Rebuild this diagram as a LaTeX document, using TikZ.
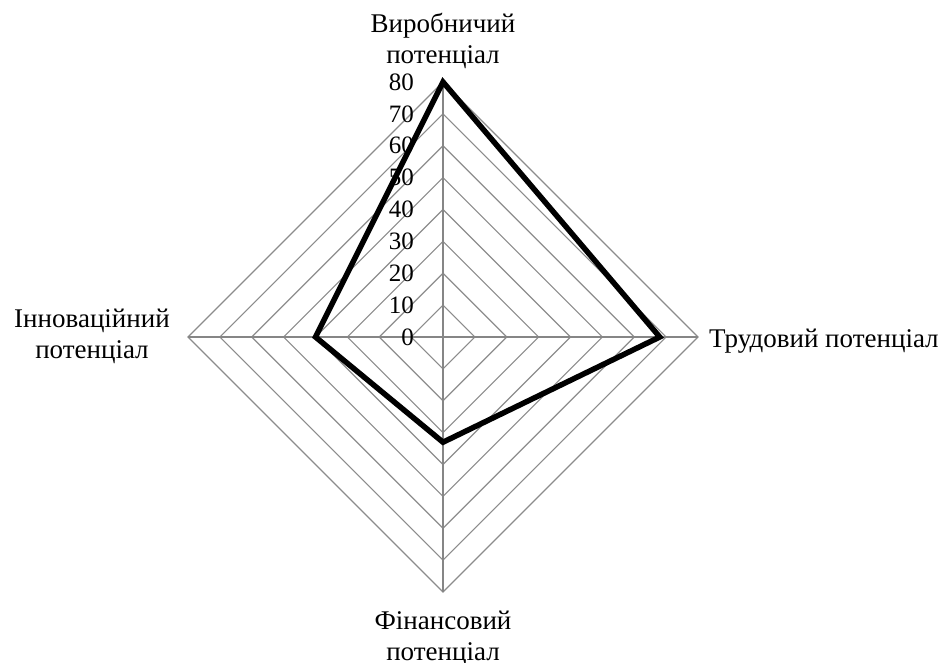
\documentclass[tikz,border=0pt]{standalone}
\usepackage{fontspec}
\setmainfont{Liberation Serif}
\begin{document}
\begin{tikzpicture}[x=1pt,y=-1pt,
  gridline/.style={draw={rgb,255:red,140;green,140;blue,140}, line width=1.2pt},
  axisline/.style={draw={rgb,255:red,134;green,134;blue,134}, line width=1.4pt},
  dataline/.style={draw=black, line width=5.5pt, line join=miter},
  lbl/.style={font=\fontsize{27}{31}\selectfont, inner sep=0pt, align=center},
  ticklbl/.style={font=\fontsize{25}{30}\selectfont, inner sep=0pt, anchor=east}]
\useasboundingbox (0,0) rectangle (945,662);
\coordinate (c) at (443,337);
\foreach \k in {1,...,8} {
  \pgfmathsetmacro\r{\k*31.875}
  \draw[gridline] (443,337-\r) -- (443+\r,337) -- (443,337+\r) -- (443-\r,337) -- cycle;
}
\coordinate (ptop) at (443,82);
\coordinate (pright) at (698,337);
\coordinate (pbottom) at (443,592);
\coordinate (pleft) at (188,337);
\draw[axisline] (ptop) -- (pbottom);
\draw[axisline] (pleft) -- (pright);
\foreach \v in {0,10,...,80} {
  \node[ticklbl] (t\v) at (414,337-\v*3.1875) {\v};
}
\coordinate (d1) at (443,82);
\coordinate (d2) at (659.75,337);
\coordinate (d3) at (443,442.2);
\coordinate (d4) at (315.5,337);
\draw[dataline] (d1) -- (d2) -- (d3) -- (d4) -- cycle;
\node[lbl, anchor=south] (ltop) at (443,69) {Виробничий\\потенціал};
\node[lbl, anchor=base west] (lright) at (709,347) {Трудовий потенціал};
\node[lbl, anchor=north] (lbottom) at (443,611) {Фінансовий\\потенціал};
\node[lbl, anchor=north] (lleft) at (92,309) {Інноваційний\\потенціал};
\end{tikzpicture}
\end{document}
